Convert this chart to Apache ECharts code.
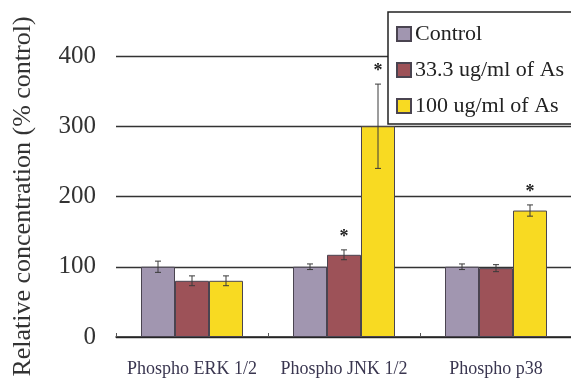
<!DOCTYPE html>
<html>
<head>
<meta charset="utf-8">
<script src="https://cdn.jsdelivr.net/npm/echarts@6/dist/echarts.min.js"></script>
<style>
  html, body { margin: 0; padding: 0; background: #fff; }
  #chart { width: 571px; height: 380px; }
</style>
</head>
<body>
<div id="chart"></div>
<script>
// Phosphorylated MAPK levels relative to control
const categories = ['Phospho ERK 1/2', 'Phospho JNK 1/2', 'Phospho p38'];
const seriesNames = ['Control', '33.3 ug/ml of As', '100 ug/ml of As'];
const controlValues = [100, 100, 100];
const lowDoseValues = [80, 117, 98];
const highDoseValues = [80, 300, 180];
const controlErrors = [8, 4, 4];
const lowDoseErrors = [7, 7, 5];
const highDoseErrors = [7, 60, 8];
// significance markers (true = starred)
const controlStars = [false, false, false];
const lowDoseStars = [false, true, false];
const highDoseStars = [false, true, true];
const yTicks = [0, 100, 200, 300, 400];

const colors = ['#a196b0', '#9d5258', '#f8da22'];
const values = [controlValues, lowDoseValues, highDoseValues];
const errors = [controlErrors, lowDoseErrors, highDoseErrors];
const stars = [controlStars, lowDoseStars, highDoseStars];

const BAR_W = 34;
const serif = '"Liberation Serif", "DejaVu Serif", serif';

const chart = echarts.init(document.getElementById('chart'), null, { renderer: 'canvas' });

const barSeries = seriesNames.map((name, i) => ({
  name: name,
  type: 'bar',
  data: values[i],
  barWidth: BAR_W,
  barGap: '0%',
  itemStyle: { color: colors[i], borderColor: '#4a4450', borderWidth: 1 },
  z: 2
}));

const errorSeries = seriesNames.map((name, i) => ({
  type: 'custom',
  name: name + ' error',
  data: values[i].map((v, k) => [k, v, errors[i][k], stars[i][k] ? 1 : 0]),
  encode: { x: 0, y: 1 },
  z: 5,
  silent: true,
  renderItem: function (params, api) {
    const k = api.value(0);
    const v = api.value(1);
    const e = api.value(2);
    const star = api.value(3);
    const off = (i - 1) * BAR_W;
    const top = api.coord([k, v + e]);
    const bot = api.coord([k, v - e]);
    const x = top[0] + off;
    const cap = 3;
    const style = { stroke: '#3a3a3a', lineWidth: 1 };
    const children = [
      { type: 'line', shape: { x1: x, y1: top[1], x2: x, y2: bot[1] }, style: style },
      { type: 'line', shape: { x1: x - cap, y1: top[1], x2: x + cap, y2: top[1] }, style: style },
      { type: 'line', shape: { x1: x - cap, y1: bot[1], x2: x + cap, y2: bot[1] }, style: style }
    ];
    if (star) {
      children.push({
        type: 'text',
        style: {
          text: '*', x: x, y: top[1] - 4,
          align: 'center', verticalAlign: 'bottom',
          font: 'bold 18px ' + serif, fill: '#222'
        }
      });
    }
    return { type: 'group', children: children };
  }
}));

chart.setOption({
  backgroundColor: '#ffffff',
  animation: false,
  color: colors,
  grid: { left: 116, right: -1, top: 56, bottom: 43, containLabel: false, outerBoundsMode: 'none' },
  legend: {
    data: seriesNames,
    orient: 'vertical',
    left: 388,
    top: 12,
    icon: 'rect',
    itemWidth: 14,
    itemHeight: 14,
    itemGap: 14,
    padding: [11, 20, 7, 8],
    backgroundColor: '#ffffff',
    borderColor: '#222',
    borderWidth: 1.5,
    borderRadius: 0,
    textStyle: { fontFamily: serif, fontSize: 22, color: '#222', padding: [0, 0, 0, -1] },
    z: 10
  },
  xAxis: {
    type: 'category',
    data: categories,
    axisLine: { show: true, lineStyle: { color: '#222', width: 1.5 } },
    axisTick: { show: true, inside: true, length: 4, lineStyle: { color: '#555' } },
    axisLabel: { interval: 0, hideOverlap: false, fontFamily: serif, fontSize: 18, color: '#3a3650', margin: 23 },
    splitLine: { show: false }
  },
  yAxis: {
    type: 'value',
    min: yTicks[0],
    max: yTicks[yTicks.length - 1],
    interval: 100,
    name: 'Relative concentration (% control)',
    nameLocation: 'middle',
    nameGap: 80,
    nameTextStyle: { fontFamily: serif, fontSize: 26, color: '#333' },
    axisLine: { show: false },
    axisTick: { show: false },
    axisLabel: { fontFamily: serif, fontSize: 25, color: '#333', margin: 20, padding: [6, 0, 0, 0] },
    splitLine: { show: true, lineStyle: { color: '#333', width: 1.3 } }
  },
  series: barSeries.concat(errorSeries)
});
</script>
</body>
</html>
